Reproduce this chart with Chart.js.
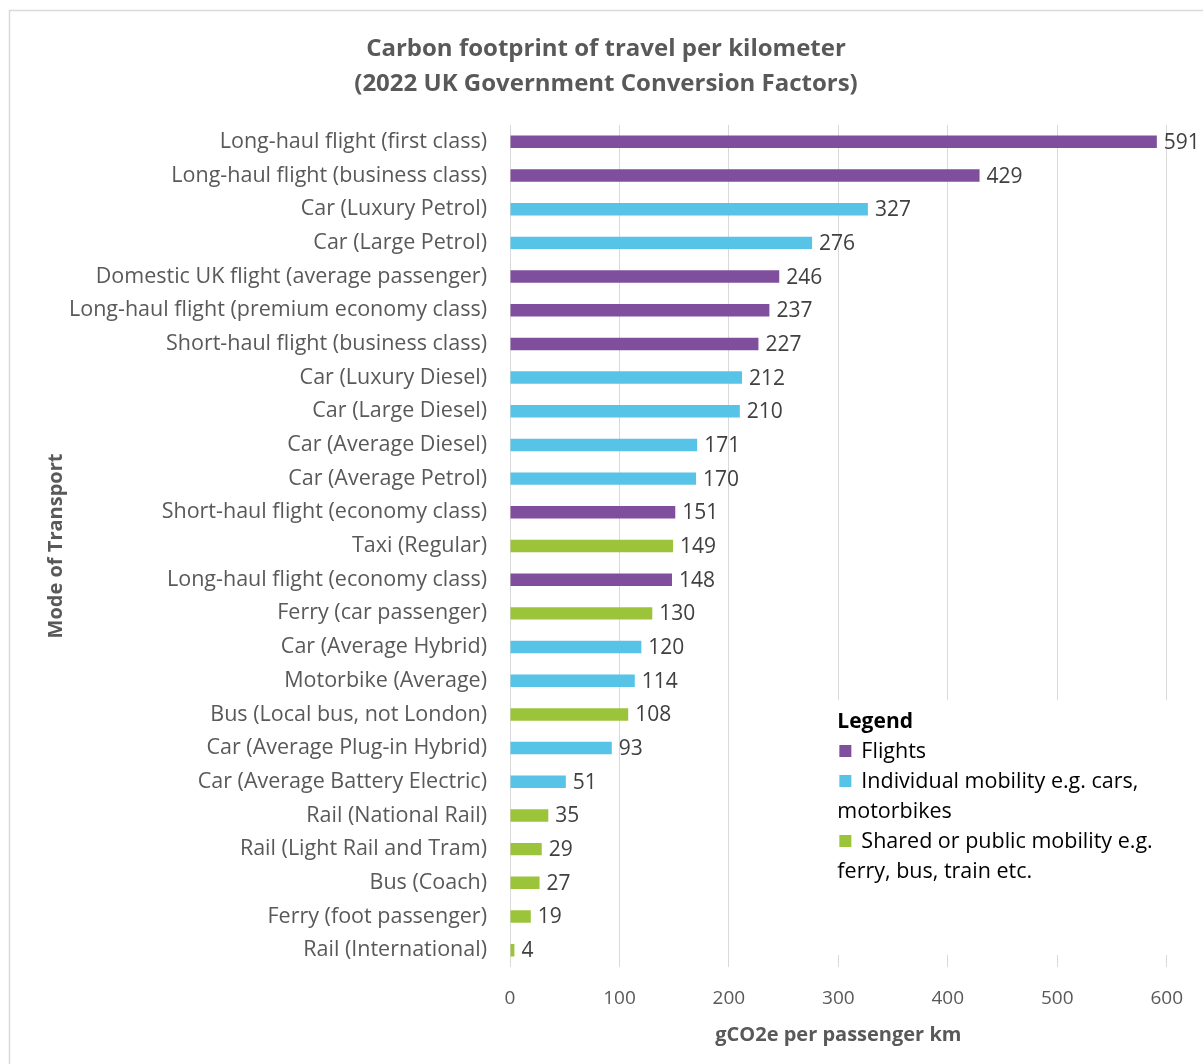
<!DOCTYPE html>
<html>
<head>
<meta charset="utf-8">
<title>Carbon footprint of travel per kilometer</title>
<script src="https://cdn.jsdelivr.net/npm/chart.js@4/dist/chart.umd.min.js"></script>
<style>
    html, body { margin: 0; padding: 0; background: #fff; overflow: hidden; }
    #wrap { position: relative; width: 1203px; height: 1064px; }
</style>
</head>
<body>
<div id="wrap"><canvas id="carbonChart"></canvas></div>
<script>
const modes = [
    'Long-haul flight (first class)',
    'Long-haul flight (business class)',
    'Car (Luxury Petrol)',
    'Car (Large Petrol)',
    'Domestic UK flight (average passenger)',
    'Long-haul flight (premium economy class)',
    'Short-haul flight (business class)',
    'Car (Luxury Diesel)',
    'Car (Large Diesel)',
    'Car (Average Diesel)',
    'Car (Average Petrol)',
    'Short-haul flight (economy class)',
    'Taxi (Regular)',
    'Long-haul flight (economy class)',
    'Ferry (car passenger)',
    'Car (Average Hybrid)',
    'Motorbike (Average)',
    'Bus (Local bus, not London)',
    'Car (Average Plug-in Hybrid)',
    'Car (Average Battery Electric)',
    'Rail (National Rail)',
    'Rail (Light Rail and Tram)',
    'Bus (Coach)',
    'Ferry (foot passenger)',
    'Rail (International)'
];
const emissions = [591, 429, 327, 276, 246, 237, 227, 212, 210, 171, 170, 151, 149, 148, 130, 120, 114, 108, 93, 51, 35, 29, 27, 19, 4];
const modeGroups = ['flight', 'flight', 'individual', 'individual', 'flight', 'flight', 'flight',
    'individual', 'individual', 'individual', 'individual', 'flight', 'shared', 'flight', 'shared',
    'individual', 'individual', 'shared', 'individual', 'individual', 'shared', 'shared', 'shared',
    'shared', 'shared'];
const groupKeys = ['flight', 'individual', 'shared'];
const groupLines = [
    ['Flights'],
    ['Individual mobility e.g. cars,', 'motorbikes'],
    ['Shared or public mobility e.g.', 'ferry, bus, train etc.']
];
const xTicks = [0, 100, 200, 300, 400, 500, 600];

const groupColors = {
    flight: '#7f4f9e',
    individual: '#57c3e6',
    shared: '#9bc43b'
};
const FONT = "'Open Sans', 'DejaVu Sans', sans-serif";
const GREY = '#595959';

// light frame around the picture
const frame = {
    id: 'frame',
    beforeDraw(chart) {
        const ctx = chart.ctx;
        ctx.save();
        ctx.fillStyle = '#fff';
        ctx.fillRect(0, 0, chart.width, chart.height);
        ctx.strokeStyle = '#d9d9d9';
        ctx.lineWidth = 1.5;
        ctx.strokeRect(9.5, 10.5, chart.width + 50, chart.height + 50);
        ctx.restore();
    }
};

// numbers at the end of each bar
const valueLabels = {
    id: 'valueLabels',
    afterDatasetsDraw(chart) {
        const ctx = chart.ctx;
        const meta = chart.getDatasetMeta(0);
        ctx.save();
        ctx.font = '21px ' + FONT;
        ctx.fillStyle = '#404040';
        ctx.textAlign = 'left';
        ctx.textBaseline = 'middle';
        meta.data.forEach(function(bar, i) {
            ctx.fillText(emissions[i], bar.x + 7, bar.y + 1);
        });
        ctx.restore();
    }
};

// boxed legend sitting inside the plot, like the original
const legendBox = {
    id: 'legendBox',
    afterDatasetsDraw(chart) {
        const ctx = chart.ctx;
        const x = chart.scales.x;
        const left = x.getPixelForValue(300) - 9;
        const top = 700;
        ctx.save();
        ctx.fillStyle = '#fff';
        ctx.fillRect(left, top, chart.width - left, 255);

        ctx.textAlign = 'left';
        ctx.textBaseline = 'middle';
        ctx.fillStyle = '#000';
        ctx.font = 'bold 21px ' + FONT;
        ctx.fillText('Legend', left + 8, top + 22);

        ctx.font = '21.5px ' + FONT;
        let y = top + 51;
        groupKeys.forEach(function(key, i) {
            ctx.fillStyle = groupColors[key];
            ctx.fillRect(left + 10, y - 6, 12, 12);
            ctx.fillStyle = '#000';
            groupLines[i].forEach(function(line, j) {
                ctx.fillText(line, j === 0 ? left + 32 : left + 8, y + 1);
                y += 30;
            });
        });
        ctx.restore();
    }
};

const ctx = document.getElementById('carbonChart');
new Chart(ctx, {
    type: 'bar',
    data: {
        labels: modes,
        datasets: [{
            data: emissions,
            backgroundColor: modeGroups.map(g => groupColors[g]),
            barPercentage: 0.37,
            categoryPercentage: 1
        }]
    },
    options: {
        indexAxis: 'y',
        responsive: true,
        maintainAspectRatio: false,
        animation: false,
        layout: { padding: { left: 44, right: 35, top: 0, bottom: 0 } },
        plugins: {
            legend: { display: false },
            tooltip: { enabled: false },
            title: {
                display: true,
                text: ['Carbon footprint of travel per kilometer', '(2022 UK Government Conversion Factors)'],
                color: GREY,
                font: { family: FONT, size: 24, weight: 'bold', lineHeight: 35 / 24 },
                padding: { top: 32, bottom: 23 }
            }
        },
        scales: {
            x: {
                min: 0,
                max: 600,
                afterBuildTicks: function(scale) {
                    scale.ticks = xTicks.map(v => ({ value: v }));
                },
                afterFit: function(scale) { scale.height = 97; },
                grid: { color: '#d9d9d9', drawTicks: false },
                border: { display: false },
                ticks: { color: GREY, font: { family: FONT, size: 19 }, padding: 20 },
                title: {
                    display: true,
                    text: 'gCO2e per passenger km',
                    color: GREY,
                    font: { family: FONT, size: 20, weight: 'bold' },
                    padding: { top: 4, bottom: 17 }
                }
            },
            y: {
                afterFit: function(scale) { scale.width = 466; },
                grid: { display: false, drawTicks: false },
                border: { display: false },
                ticks: { color: GREY, font: { family: FONT, size: 21.5 }, padding: 23, autoSkip: false },
                title: {
                    display: true,
                    text: 'Mode of Transport',
                    color: GREY,
                    font: { family: FONT, size: 20, weight: 'bold' },
                    padding: { top: 0, bottom: 0 }
                }
            }
        }
    },
    plugins: [frame, valueLabels, legendBox]
});
</script>
</body>
</html>
